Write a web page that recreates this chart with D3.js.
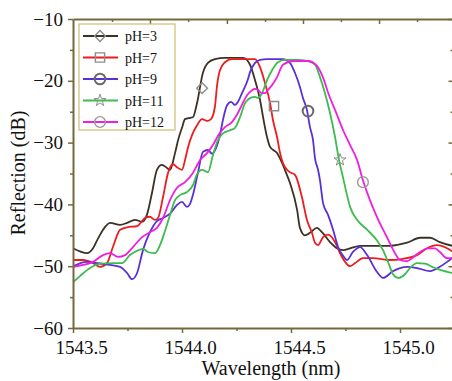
<!DOCTYPE html>
<html>
<head>
<meta charset="utf-8">
<script src="https://cdn.jsdelivr.net/npm/d3@7"></script>
<style>
body { margin: 0; background: #ffffff; }
svg { display: block; }
</style>
</head>
<body>
<div id="Chart"></div>
<script>
//////////////////////////////////////////////////////////////////////////
// data: [wavelength (nm), reflection (dB)]

var ph3 = [
  [1543.500,-47.1],[1543.532,-47.6],[1543.564,-47.9],[1543.592,-47.1],[1543.615,-45.5],
  [1543.638,-44.1],[1543.670,-43.0],[1543.716,-43.3],[1543.748,-43.0],[1543.784,-42.5],
  [1543.817,-42.8],[1543.839,-41.7],[1543.862,-38.2],[1543.885,-34.4],[1543.908,-33.6],
  [1543.931,-34.1],[1543.945,-34.4],[1543.968,-31.7],[1543.982,-29.6],[1544.000,-27.6],
  [1544.014,-26.2],[1544.037,-26.0],[1544.050,-25.9],[1544.069,-23.6],[1544.096,-18.7],
  [1544.119,-17.1],[1544.151,-16.5],[1544.197,-16.3],[1544.280,-16.3],[1544.312,-17.4],
  [1544.335,-19.9],[1544.358,-23.1],[1544.372,-25.9],[1544.390,-29.1],[1544.404,-30.7],
  [1544.436,-31.7],[1544.459,-33.3],[1544.472,-34.4],[1544.495,-36.5],[1544.528,-40.9],
  [1544.541,-43.8],[1544.564,-45.0],[1544.587,-44.6],[1544.619,-43.8],[1544.642,-44.5],
  [1544.679,-46.1],[1544.711,-47.1],[1544.739,-47.4],[1544.771,-47.1],[1544.817,-46.7],
  [1544.954,-46.7],[1545.032,-46.2],[1545.092,-45.4],[1545.138,-45.4],[1545.183,-46.1],
  [1545.239,-46.7]
];

var ph7 = [
  [1543.500,-49.0],[1543.546,-49.0],[1543.592,-49.5],[1543.624,-50.1],[1543.656,-49.5],
  [1543.683,-46.9],[1543.716,-44.1],[1543.748,-43.7],[1543.794,-43.5],[1543.830,-42.2],
  [1543.853,-42.0],[1543.876,-42.5],[1543.890,-42.2],[1543.913,-38.8],[1543.936,-34.9],
  [1543.959,-33.5],[1543.977,-34.0],[1544.000,-34.4],[1544.014,-32.8],[1544.028,-30.7],
  [1544.046,-28.8],[1544.069,-27.2],[1544.092,-26.2],[1544.115,-26.5],[1544.133,-26.2],
  [1544.151,-24.2],[1544.161,-20.7],[1544.174,-18.3],[1544.197,-17.0],[1544.229,-16.5],
  [1544.335,-16.5],[1544.358,-17.8],[1544.381,-20.4],[1544.404,-23.6],[1544.417,-26.3],
  [1544.436,-29.1],[1544.450,-31.7],[1544.463,-33.3],[1544.482,-34.4],[1544.495,-34.8],
  [1544.518,-35.2],[1544.550,-38.8],[1544.573,-42.5],[1544.596,-44.6],[1544.610,-46.2],
  [1544.624,-46.6],[1544.647,-45.3],[1544.670,-44.9],[1544.702,-46.1],[1544.725,-47.9],
  [1544.748,-49.3],[1544.771,-50.0],[1544.794,-49.5],[1544.830,-48.7],[1544.876,-48.7],
  [1544.954,-49.0],[1545.014,-48.8],[1545.078,-48.2],[1545.124,-47.1],[1545.170,-46.6],
  [1545.216,-47.1],[1545.239,-47.6]
];

var ph9 = [
  [1543.500,-50.0],[1543.564,-49.3],[1543.610,-49.5],[1543.670,-49.8],[1543.716,-50.1],
  [1543.748,-51.1],[1543.771,-52.1],[1543.794,-51.1],[1543.821,-47.4],[1543.853,-44.5],
  [1543.885,-42.7],[1543.913,-42.2],[1543.945,-41.5],[1543.977,-40.1],[1544.000,-39.6],
  [1544.023,-40.4],[1544.037,-39.9],[1544.050,-38.5],[1544.073,-34.9],[1544.096,-31.5],
  [1544.119,-31.2],[1544.138,-31.8],[1544.156,-30.9],[1544.174,-28.8],[1544.188,-26.3],
  [1544.206,-24.0],[1544.225,-23.4],[1544.243,-23.9],[1544.257,-23.4],[1544.275,-22.0],
  [1544.303,-19.7],[1544.312,-18.6],[1544.335,-17.1],[1544.358,-16.6],[1544.390,-16.5],
  [1544.463,-16.5],[1544.495,-17.1],[1544.518,-18.7],[1544.541,-21.0],[1544.555,-22.8],
  [1544.573,-24.7],[1544.587,-27.5],[1544.601,-29.6],[1544.610,-32.5],[1544.624,-34.4],
  [1544.633,-36.1],[1544.647,-39.8],[1544.670,-41.7],[1544.693,-44.1],[1544.716,-46.9],
  [1544.739,-48.3],[1544.757,-49.0],[1544.784,-47.7],[1544.817,-46.9],[1544.849,-48.2],
  [1544.894,-50.9],[1544.922,-51.9],[1544.968,-50.8],[1545.000,-50.3],[1545.032,-50.1],
  [1545.078,-50.3],[1545.138,-50.8],[1545.183,-50.1],[1545.216,-49.3],[1545.239,-48.7]
];

var ph11 = [
  [1543.500,-52.6],[1543.532,-51.6],[1543.578,-50.3],[1543.624,-49.6],[1543.683,-49.5],
  [1543.725,-49.5],[1543.761,-48.2],[1543.794,-47.5],[1543.821,-47.2],[1543.844,-47.7],
  [1543.876,-47.9],[1543.899,-46.6],[1543.922,-44.3],[1543.945,-41.7],[1543.968,-39.3],
  [1543.991,-38.5],[1544.023,-38.0],[1544.050,-36.9],[1544.069,-35.1],[1544.092,-34.4],
  [1544.119,-34.8],[1544.142,-32.0],[1544.165,-29.6],[1544.188,-28.5],[1544.220,-28.0],
  [1544.243,-27.6],[1544.266,-25.9],[1544.289,-23.6],[1544.312,-22.8],[1544.335,-22.6],
  [1544.349,-22.8],[1544.367,-22.0],[1544.390,-19.9],[1544.413,-18.3],[1544.440,-17.0],
  [1544.472,-16.6],[1544.528,-16.6],[1544.578,-16.8],[1544.610,-17.4],[1544.633,-19.4],
  [1544.656,-22.0],[1544.679,-25.2],[1544.702,-29.1],[1544.720,-32.8],[1544.739,-35.7],
  [1544.757,-38.5],[1544.771,-40.4],[1544.803,-42.5],[1544.849,-44.1],[1544.894,-45.8],
  [1544.922,-47.4],[1544.945,-49.3],[1544.968,-51.3],[1544.991,-51.9],[1545.023,-51.3],
  [1545.046,-50.3],[1545.078,-49.5],[1545.115,-49.6],[1545.147,-50.1],[1545.183,-50.6],
  [1545.216,-50.9],[1545.239,-51.1]
];

var ph12 = [
  [1543.500,-50.1],[1543.546,-49.8],[1543.592,-49.3],[1543.638,-48.2],[1543.670,-47.9],
  [1543.706,-48.5],[1543.739,-48.2],[1543.775,-46.9],[1543.817,-45.3],[1543.853,-44.5],
  [1543.885,-43.8],[1543.913,-42.2],[1543.945,-39.3],[1543.977,-37.3],[1544.014,-36.4],
  [1544.050,-34.9],[1544.083,-32.8],[1544.115,-31.7],[1544.142,-30.4],[1544.165,-28.9],
  [1544.197,-27.5],[1544.229,-26.7],[1544.252,-25.5],[1544.275,-23.9],[1544.294,-22.6],
  [1544.312,-21.8],[1544.335,-21.3],[1544.349,-21.5],[1544.367,-22.0],[1544.381,-22.0],
  [1544.394,-21.5],[1544.413,-20.7],[1544.436,-19.4],[1544.463,-17.4],[1544.509,-16.8],
  [1544.578,-16.8],[1544.619,-17.6],[1544.647,-19.5],[1544.674,-22.3],[1544.702,-24.7],
  [1544.739,-28.0],[1544.771,-30.4],[1544.803,-32.8],[1544.830,-36.1],[1544.862,-39.3],
  [1544.894,-42.0],[1544.940,-45.3],[1544.977,-47.9],[1545.000,-49.0],[1545.032,-49.2],
  [1545.055,-48.7],[1545.092,-47.7],[1545.128,-47.1],[1545.161,-47.1],[1545.183,-47.7],
  [1545.216,-48.7],[1545.239,-48.7]
];

var seriesNames = ["pH=3", "pH=7", "pH=9", "pH=11", "pH=12"];
var seriesData = [ph3, ph7, ph9, ph11, ph12];

// one symbol per series, sitting on the curves
var markerPoints = [
  [1544.092,-21.2], [1544.422,-24.1], [1544.578,-24.9], [1544.725,-32.8], [1544.830,-36.4]
];

var xTicks = [1543.5, 1544.0, 1544.5, 1545.0];
var xMinorTicks = [1543.75, 1544.25, 1544.75, 1545.25];
var yTicks = [-60, -50, -40, -30, -20, -10];
var yMinorTicks = [-55, -45, -35, -25, -15];
var topMajorTicks = [1543.853, 1544.206, 1544.555, 1544.904];
var topMinorTicks = [1543.679, 1544.028, 1544.381, 1544.729, 1545.078];

var xLabel = "Wavelength (nm)";
var yLabel = "Reflection (dB)";

//////////////////////////////////////////////////////////////////////////
// layout and style constants

var Width = 452;
var Height = 381;
var Left = 73, Right = 454.5, Top = 19, Bottom = 328;
var AxisColor = "#76683c";
var Font = "'Liberation Serif', 'Times New Roman', serif";
var seriesColors = ["#3b3225", "#ee1c1c", "#5a30d6", "#3dbb4e", "#f01ee0"];
var markerTypes = ["diamond", "square", "circle", "star", "circle"];
var markerStrokes = ["#8c8c8c", "#8c8c8c", "#6a6a6a", "#8c8c8c", "#9a9a9a"];
var markerWidths = [1.4, 1.4, 2, 1, 1.4];

//////////////////////////////////////////////////////////////////////////

function initialize () {

    var svg = d3.select("#Chart")
        .append("svg")
        .attr("width", Width)
        .attr("height", Height);

    var xScale = d3.scaleLinear().domain([1543.5, 1545.25]).range([Left, Right]);
    var yScale = d3.scaleLinear().domain([-60, -10]).range([Bottom, Top]);

    drawCurves(svg, xScale, yScale);
    drawAxes(svg, xScale, yScale);
    drawLegend(svg);

} // end initialize

// path for a hollow marker centred on 0,0
function markerPath (type) {
    if (type == "diamond") return d3.symbol().type(d3.symbolSquare).size(58)();
    if (type == "square") return d3.symbol().type(d3.symbolSquare).size(85)();
    if (type == "star") return d3.symbol().type(d3.symbolStar).size(45)();
    return d3.symbol().type(d3.symbolCircle).size(90)();
} // end markerPath

function addMarker (g, i, x, y) {
    g.append("path")
        .attr("d", markerPath(markerTypes[i]))
        .attr("transform", "translate(" + x + "," + y + ")" +
              (markerTypes[i] == "diamond" ? " rotate(45)" : ""))
        .attr("fill", "none")
        .attr("stroke", markerStrokes[i])
        .attr("stroke-width", markerWidths[i]);
} // end addMarker

function drawCurves (svg, xScale, yScale) {

    svg.append("clipPath")
        .attr("id", "plotClip")
        .append("rect")
        .attr("x", Left).attr("y", Top)
        .attr("width", Right - Left).attr("height", Bottom - Top);

    var line = d3.line()
        .x(function(d) { return xScale(d[0]); })
        .y(function(d) { return yScale(d[1]); })
        .curve(d3.curveMonotoneX);

    var g = svg.append("g").attr("clip-path", "url(#plotClip)");

    g.selectAll("path.curve")
        .data(seriesData)
        .enter()
        .append("path")
        .attr("class", "curve")
        .attr("d", line)
        .attr("fill", "none")
        .attr("stroke", function(d, i) { return seriesColors[i]; })
        .attr("stroke-width", 1.8);

    markerPoints.forEach(function(p, i) {
        addMarker(g, i, xScale(p[0]), yScale(p[1]));
    });

} // end drawCurves

function styleAxis (g, fontSize) {
    g.select(".domain").attr("stroke", AxisColor).attr("stroke-width", 2);
    g.selectAll(".tick line").attr("stroke", AxisColor).attr("stroke-width", 1.5);
    g.selectAll(".tick text")
        .attr("fill", "#111")
        .style("font-family", Font)
        .style("font-size", fontSize + "px");
} // end styleAxis

function drawAxes (svg, xScale, yScale) {

    // bottom: labelled ticks plus small ones between
    var bottom = svg.append("g")
        .attr("transform", "translate(0," + Bottom + ")")
        .call(d3.axisBottom(xScale).tickValues(xTicks).tickSize(5)
              .tickSizeOuter(0).tickPadding(8).tickFormat(d3.format(".1f")));
    styleAxis(bottom, 19);
    bottom.selectAll(".tick text").attr("dx", 8);
    svg.append("g")
        .attr("transform", "translate(0," + Bottom + ")")
        .call(d3.axisBottom(xScale).tickValues(xMinorTicks).tickSize(3)
              .tickSizeOuter(0).tickFormat(""))
        .call(function(g) { styleAxis(g, 19); g.select(".domain").remove(); });

    // top: unlabelled inward ticks
    var top = svg.append("g")
        .attr("transform", "translate(0," + Top + ")")
        .call(d3.axisBottom(xScale).tickValues(topMajorTicks).tickSize(5)
              .tickSizeOuter(0).tickFormat(""));
    styleAxis(top, 19);
    svg.append("g")
        .attr("transform", "translate(0," + Top + ")")
        .call(d3.axisBottom(xScale).tickValues(topMinorTicks).tickSize(3)
              .tickSizeOuter(0).tickFormat(""))
        .call(function(g) { styleAxis(g, 19); g.select(".domain").remove(); });

    // left
    var left = svg.append("g")
        .attr("transform", "translate(" + Left + ",0)")
        .call(d3.axisLeft(yScale).tickValues(yTicks).tickSize(5)
              .tickSizeOuter(0).tickPadding(5));
    styleAxis(left, 19);
    svg.append("g")
        .attr("transform", "translate(" + Left + ",0)")
        .call(d3.axisLeft(yScale).tickValues(yMinorTicks).tickSize(3)
              .tickSizeOuter(0).tickFormat(""))
        .call(function(g) { styleAxis(g, 19); g.select(".domain").remove(); });

    // right: inward ticks, mostly past the window edge
    var right = svg.append("g")
        .attr("transform", "translate(" + Right + ",0)")
        .call(d3.axisLeft(yScale).tickValues(yTicks).tickSize(6)
              .tickSizeOuter(0).tickFormat(""));
    styleAxis(right, 19);
    svg.append("g")
        .attr("transform", "translate(" + Right + ",0)")
        .call(d3.axisLeft(yScale).tickValues(yMinorTicks).tickSize(4)
              .tickSizeOuter(0).tickFormat(""))
        .call(function(g) { styleAxis(g, 19); g.select(".domain").remove(); });

    // axis titles
    svg.append("text")
        .attr("x", 271)
        .attr("y", 375)
        .attr("text-anchor", "middle")
        .style("font-family", Font)
        .style("font-size", "20px")
        .attr("fill", "#111")
        .text(xLabel);

    svg.append("text")
        .attr("transform", "translate(25,173) rotate(-90)")
        .attr("text-anchor", "middle")
        .style("font-family", Font)
        .style("font-size", "20px")
        .attr("fill", "#111")
        .text(yLabel);

} // end drawAxes

function drawLegend (svg) {

    var lx = 79, ly = 24, lw = 96, lh = 106, step = 21.5;

    var g = svg.append("g");

    g.append("rect")
        .attr("x", lx).attr("y", ly)
        .attr("width", lw).attr("height", lh)
        .attr("fill", "#ffffff")
        .attr("stroke", "#cdbf72")
        .attr("stroke-width", 1.2);

    seriesNames.forEach(function(name, i) {
        var cy = ly + 12 + i * step;
        g.append("line")
            .attr("x1", lx + 4).attr("x2", lx + 39)
            .attr("y1", cy).attr("y2", cy)
            .attr("stroke", seriesColors[i])
            .attr("stroke-width", 1.8);
        addMarker(g, i, lx + 21, cy);
        g.append("text")
            .attr("x", lx + 46)
            .attr("y", cy + 5)
            .style("font-family", Font)
            .style("font-size", "14px")
            .attr("fill", "#111")
            .text(name);
    });

} // end drawLegend

initialize();
</script>
</body>
</html>
